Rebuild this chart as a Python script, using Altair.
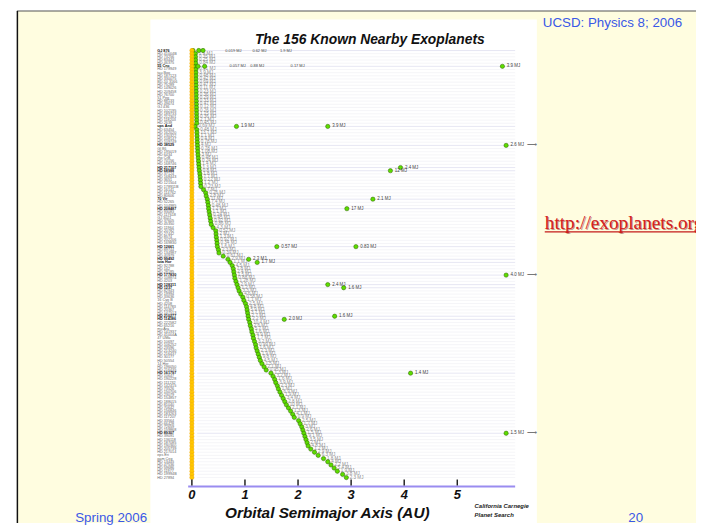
import altair as alt
import pandas as pd

# ---------------- data ----------------
ROW_A = [0.021, 0.066, 0.068, 0.070, 0.072, 0.038, 0.075, 0.076, 0.077, 0.077,
         0.078, 0.079, 0.080, 0.081, 0.082, 0.083, 0.084, 0.085, 0.086, 0.087,
         0.088, 0.089, 0.090, 0.091, 0.059, 0.093, 0.095, 0.098, 0.100, 0.102,
         0.105, 0.108, 0.110, 0.115, 0.120, 0.125, 0.130, 0.135, 0.140, 0.150,
         0.155, 0.160, 0.165, 0.170, 0.220, 0.260, 0.270, 0.290, 0.300, 0.310,
         0.315, 0.325, 0.335, 0.345, 0.355, 0.365, 0.400, 0.450, 0.455, 0.460,
         0.470, 0.475, 0.480, 0.500, 0.510, 0.590, 0.680, 0.720, 0.760, 0.780,
         0.790, 0.800, 0.810, 0.830, 0.850, 0.870, 0.890, 0.920, 0.960, 0.980,
         1.01, 1.03, 1.04, 1.05, 1.06, 1.07, 1.09, 1.10, 1.12, 1.13,
         1.15, 1.16, 1.18, 1.20, 1.21, 1.23, 1.25, 1.27, 1.29, 1.32,
         1.36, 1.40, 1.49, 1.53, 1.56, 1.58, 1.61, 1.63, 1.66, 1.69,
         1.72, 1.75, 1.78, 1.82, 1.86, 1.90, 1.93, 2.01, 2.04, 2.07,
         2.09, 2.11, 2.13, 2.15, 2.17, 2.19, 2.24, 2.31, 2.38, 2.48,
         2.56, 2.62, 2.68, 2.74, 2.84, 2.91]

MASS = [None, 1.9, 0.35, 0.25, 0.84, None, 0.91, 3.9, 0.48, 0.42,
        0.69, 0.47, 0.11, 0.23, 0.36, 0.29, 0.33, 0.47, 0.12, 0.26,
        1.15, 0.36, 2.1, 0.45, 0.69, 0.48, 13.7, 1.1, 0.40, 0.78,
        4.0, 0.78, 1.08, 3.0, 0.48, 0.24, 1.4, 1.3, 0.8, 1.8,
        7.7, 0.22, 1.2, 0.23, 7.0, 0.26, 2.8, 11.0, 7.4, 0.48,
        7.2, 1.1, 0.24, 0.45, 0.92, 0.86, 4.3, 0.52, 2.0, 1.3,
        0.92, 0.34, 1.6, 2.3, 0.39, 0.61, 2.9, 1.1, 4.5, 7.8,
        2.4, 1.5, 0.88, 1.28, 2.9, 1.2, 3.3, 4.6, 0.58, 1.1,
        2.5, 4.8, 5.9, 3.7, 2.7, 2.2, 10.4, 2.6, 5.7, 1.6,
        4.9, 1.7, 3.2, 0.99, 1.6, 2.3, 1.9, 9.8, 4.5, 1.5,
        2.1, 0.95, 1.3, 3.2, 1.6, 3.9, 2.3, 1.0, 6.9, 1.9,
        3.4, 2.8, 10.0, 2.1, 1.3, 4.1, 0.9, 2.5, 1.7, 3.0,
        2.6, 1.5, 9.1, 3.5, 2.0, 4.8, 1.2, 2.9, 6.3, 1.8,
        4.0, 2.2, 5.4, 1.9, 3.8, 2.3]

NAMES = ["GJ 876", "HD 41004B", "HD 73256", "HD 83443", "HD 46375", "55 Cnc",
         "HD 179949", "tau Boo", "HD 187123", "HD 330075", "BD-10 3166", "HD 75289",
         "HD 149026", "HD 209458", "HD 76700", "51 Peg", "HD 88133", "HD 49674",
         "GJ 436", "HD 102195", "HD 189733", "HD 212301", "HD 118203", "HD 2638",
         "ups And", "HD 63454", "HD 162020", "HD 130322", "HD 108147", "HD 109749",
         "HD 38529", "Gl 86", "HD 195019", "HD 6434", "rho CrB", "HD 74156",
         "HD 168746", "HD 217107", "HD 68988", "HD 37124", "HD 168443", "HD 3651",
         "HD 121504", "HD 178911B", "HD 16141", "HD 114762", "HD 80606", "70 Vir",
         "HD 52265", "HD 104985", "HD 208487", "HD 93083", "HD 117618", "GJ 3021",
         "HD 37605", "HD 45350", "HD 11964", "HD 20782", "HD 27442", "HD 8574",
         "HD 202206", "HD 169830", "HD 12661", "HD 89744", "HD 134987", "HD 40979",
         "HD 99492", "iota Hor", "HD 92788", "HD 142", "HD 28185", "HD 177830",
         "HD 108874", "HD 4203", "HD 128311", "HD 1237", "HD 82943", "HD 19994",
         "HD 33636", "16 Cyg B", "HD 4208", "HD 114783", "HD 20367", "HD 147513",
         "HD 210277", "HD 114386", "HD 222582", "HD 65216", "mu Ara", "HD 141937",
         "HD 41004A", "47 UMa", "HD 10697", "HD 106252", "HD 23596", "HD 213240",
         "HD 216437", "HD 30177", "HD 50554", "14 Her", "HD 196050", "HD 216435",
         "HD 161797", "HD 10647", "HD 190228", "HD 111232", "HD 142415", "HD 73526",
         "HD 150706", "HD 23079", "HD 154857", "HD 188015", "HD 81040", "HD 70642",
         "HD 156846", "HD 183263", "HD 117207", "HD 33564", "HD 66428", "HD 72659",
         "HD 159868", "HD 89307", "HD 39091", "HD 136118", "HD 187085", "HD 190360",
         "HD 205739", "HD 217014", "eps Eri", "gam Cep", "HD 13445", "HD 47536",
         "HD 59686", "HD 11977", "HD 19994B", "HD 27894"]

MULTI_ROWS = [0, 5, 24, 30, 37, 38, 47, 50, 62, 66, 67, 71, 74, 75, 84, 85, 102, 121]

# additional planets of the same star (off the main curve)
EXTRA_ROW = [0, 0, 5, 5, 5, 24, 24, 30, 37, 38, 47, 50, 62, 62, 66, 67, 71, 74, 75, 84, 85, 102, 121]
EXTRA_A = [0.13, 0.21, 0.115, 0.24, 5.85, 0.84, 2.56, 5.92, 3.93, 3.74, 3.41, 2.92,
           1.60, 3.09, 1.07, 1.23, 5.92, 2.56, 2.86, 2.69, 1.74, 4.12, 5.92]
EXTRA_LABEL = ["", "", "", "", "3.9 MJ", "1.9 MJ", "3.9 MJ", "2.6 MJ", "2.4 MJ", "12 MJ",
               "2.1 MJ", "17 MJ", "0.57 MJ", "0.83 MJ", "2.3 MJ", "1.7 MJ", "4.0 MJ",
               "2.4 MJ", "1.6 MJ", "1.6 MJ", "2.0 MJ", "1.4 MJ", "1.5 MJ"]

# mass labels of the crowded inner systems, written apart from their points
SEP_ROW = [0, 0, 0, 5, 5, 5]
SEP_X = [0.63, 1.14, 1.66, 0.71, 1.10, 1.86]
SEP_LABEL = ["0.019 MJ", "0.62 MJ", "1.9 MJ", "0.057 MJ", "0.88 MJ", "0.17 MJ"]

ARROW_ROWS = [30, 71, 121]
ARROW_A = [5.92, 5.92, 5.92]

TICKS = [0, 1, 2, 3, 4, 5]

TITLE = "The 156 Known Nearby Exoplanets"
XTITLE = "Orbital Semimajor Axis  (AU)"
CREDIT = ["California Carnegie", "Planet Search"]
HEADER = "UCSD: Physics 8; 2006"
LINK = "http://exoplanets.org"
FOOT_LEFT = "Spring 2006"
PAGE_NO = "20"

# ---------------- tables ----------------
rows = pd.DataFrame({
    "row": list(range(len(ROW_A))),
    "a": ROW_A,
    "mass": MASS,
    "name": NAMES,
})
rows["multi"] = rows["row"].isin(MULTI_ROWS)
rows["mlabel"] = rows["mass"].map(lambda m: "" if m is None or pd.isna(m) else f"{m:g} MJ")

extra = pd.DataFrame({"row": EXTRA_ROW, "a": EXTRA_A, "label": EXTRA_LABEL})
sep = pd.DataFrame({"row": SEP_ROW, "a": SEP_X, "label": SEP_LABEL})
arrows = pd.DataFrame({"row": ARROW_ROWS, "a": ARROW_A})
ticks = pd.DataFrame({"t": TICKS, "lab": [str(t) for t in TICKS]})
one = pd.DataFrame({"k": [0]})

W, H = 696, 518
xs = alt.Scale(domain=[-3.464, 9.497], nice=False, zero=False)
ys = alt.Scale(domain=[-12.5, 149.375], reverse=True, nice=False, zero=False)

X = lambda f: alt.X(f, type="quantitative", scale=xs, axis=None)
Y = lambda f: alt.Y(f, type="quantitative", scale=ys, axis=None)

BOLDIT = dict(fontWeight="bold", fontStyle="italic", font="Liberation Sans Narrow, Liberation Sans, Arial")

# slide background and frame
slide = alt.Chart(one).mark_rect(color="#FFFDE0").encode(
    x=alt.value(9), x2=alt.value(W), y=alt.value(0), y2=alt.value(H))
frame_top = alt.Chart(one).mark_rule(color="#555555", strokeWidth=1.2).encode(
    x=alt.value(9), x2=alt.value(W), y=alt.value(0))
frame_left = alt.Chart(one).mark_rule(color="#111111", strokeWidth=1.5).encode(
    x=alt.value(9.5), y=alt.value(0), y2=alt.value(H))
image_bg = alt.Chart(one).mark_rect(color="#FFFFFF").encode(
    x=alt.value(144), x2=alt.value(535), y=alt.value(8.5), y2=alt.value(H))

# row grid lines
grid = alt.Chart(rows).mark_rule(strokeWidth=0.7).encode(
    y=Y("row"),
    x=alt.X(datum=0.1, scale=xs, axis=None),
    x2=alt.X2(datum=6.09),
    color=alt.condition("datum.multi", alt.value("#DCDCEE"), alt.value("#F0F0F5")),
)

# mass labels on the curve
mass_text = alt.Chart(rows).mark_text(
    align="left", baseline="middle", dx=3.5, fontSize=4.6, color="#8E8E8E", font="Liberation Sans"
).encode(x=X("a"), y=Y("row"), text="mlabel:N")

# green planets
planet_style = dict(shape="circle", filled=True, color="#5CDC00", stroke="#2F5F00",
                    strokeWidth=0.5, opacity=1, size=19)
planets = alt.Chart(rows).mark_point(**planet_style).encode(x=X("a"), y=Y("row"))
planets_extra = alt.Chart(extra).mark_point(**planet_style).encode(x=X("a"), y=Y("row"))
extra_text = alt.Chart(extra).mark_text(
    align="left", baseline="middle", dx=4.5, fontSize=4.5, color="#444444", font="Liberation Sans"
).encode(x=X("a"), y=Y("row"), text="label:N")
sep_text = alt.Chart(sep).mark_text(
    align="left", baseline="middle", fontSize=4, color="#444444", font="Liberation Sans"
).encode(x=X("a"), y=Y("row"), text="label:N")
arrow_text = alt.Chart(arrows).mark_text(
    text="⟶", align="left", baseline="middle", dx=21, fontSize=7, color="#777777"
).encode(x=X("a"), y=Y("row"))

# host stars at 0 AU
stars = alt.Chart(rows).mark_point(
    shape="circle", filled=True, color="#FFC800", stroke="#F0A000", strokeWidth=0.4,
    opacity=1, size=19
).encode(x=alt.X(datum=0, scale=xs, axis=None), y=Y("row"))

# star names
names_plain = alt.Chart(rows).transform_filter("!datum.multi").mark_text(
    align="left", baseline="middle", fontSize=3.8, color="#666666", font="Liberation Sans"
).encode(x=alt.value(151), y=Y("row"), text="name:N")
names_bold = alt.Chart(rows).transform_filter("datum.multi").mark_text(
    align="left", baseline="middle", fontSize=3.8, fontWeight="bold", color="#111111",
    font="Liberation Sans"
).encode(x=alt.value(151), y=Y("row"), text="name:N")

# x axis drawn by hand (purple line, ticks pointing up)
axis_line = alt.Chart(one).mark_rule(color="#9A8CF0", strokeWidth=2).encode(
    x=alt.X(datum=-0.07, scale=xs, axis=None), x2=alt.X2(datum=6.09), y=alt.value(481))
tick_marks = alt.Chart(ticks).mark_rule(color="#222222", strokeWidth=1.5).encode(
    x=X("t"), y=alt.value(474), y2=alt.value(480))
tick_labels = alt.Chart(ticks).mark_text(
    baseline="middle", fontSize=13, color="#111111", **BOLDIT
).encode(x=X("t"), y=alt.value(489.5), text="lab:N")

def label(txt, x, y, **kw):
    return alt.Chart(one).mark_text(text=txt, **kw).encode(x=alt.value(x), y=alt.value(y))

title = label(TITLE, 366, 29, align="center", baseline="middle", fontSize=14, color="#111111", **BOLDIT)
xtitle = label(XTITLE, 323, 508, align="center", baseline="middle", fontSize=15.5, color="#111111", **BOLDIT)
credit1 = label(CREDIT[0], 472, 501, align="left", baseline="middle", fontSize=6, color="#222222", **BOLDIT)
credit2 = label(CREDIT[1], 472, 510, align="left", baseline="middle", fontSize=6, color="#222222", **BOLDIT)

header = label(HEADER, 541, 16, align="left", baseline="alphabetic", fontSize=13.5,
               color="#3A58E6", font="Liberation Sans")
link_shadow = label(LINK, 544, 222, align="left", baseline="alphabetic", fontSize=19.5,
                    color="#7A1010", opacity=0.45, font="Liberation Serif")
link = label(LINK, 543, 221, align="left", baseline="alphabetic", fontSize=19.5,
             color="#D42020", font="Liberation Serif")
link_ul = alt.Chart(one).mark_rule(color="#C41A1A", strokeWidth=1.3).encode(
    x=alt.value(543), x2=alt.value(W), y=alt.value(223.5))
foot_left = label(FOOT_LEFT, 68, 517, align="left", baseline="alphabetic", fontSize=13.5,
                  color="#3A58E6", font="Liberation Sans")
page_no = label(PAGE_NO, 635, 517, align="center", baseline="alphabetic", fontSize=13.5,
                color="#3A58E6", font="Liberation Sans")

chart = alt.layer(
    slide, frame_top, frame_left, image_bg,
    grid, mass_text, planets, planets_extra, stars,
    extra_text, sep_text, arrow_text,
    names_plain, names_bold,
    axis_line, tick_marks, tick_labels,
    title, xtitle, credit1, credit2,
    header, link_shadow, link, link_ul, foot_left, page_no,
).properties(
    width=W, height=H,
    autosize=alt.AutoSizeParams(type="none"),
    padding=0,
    background="#FFFFFF",
).configure_view(stroke=None)

chart.save("out.html", embed_options={"renderer": "svg", "actions": False})
